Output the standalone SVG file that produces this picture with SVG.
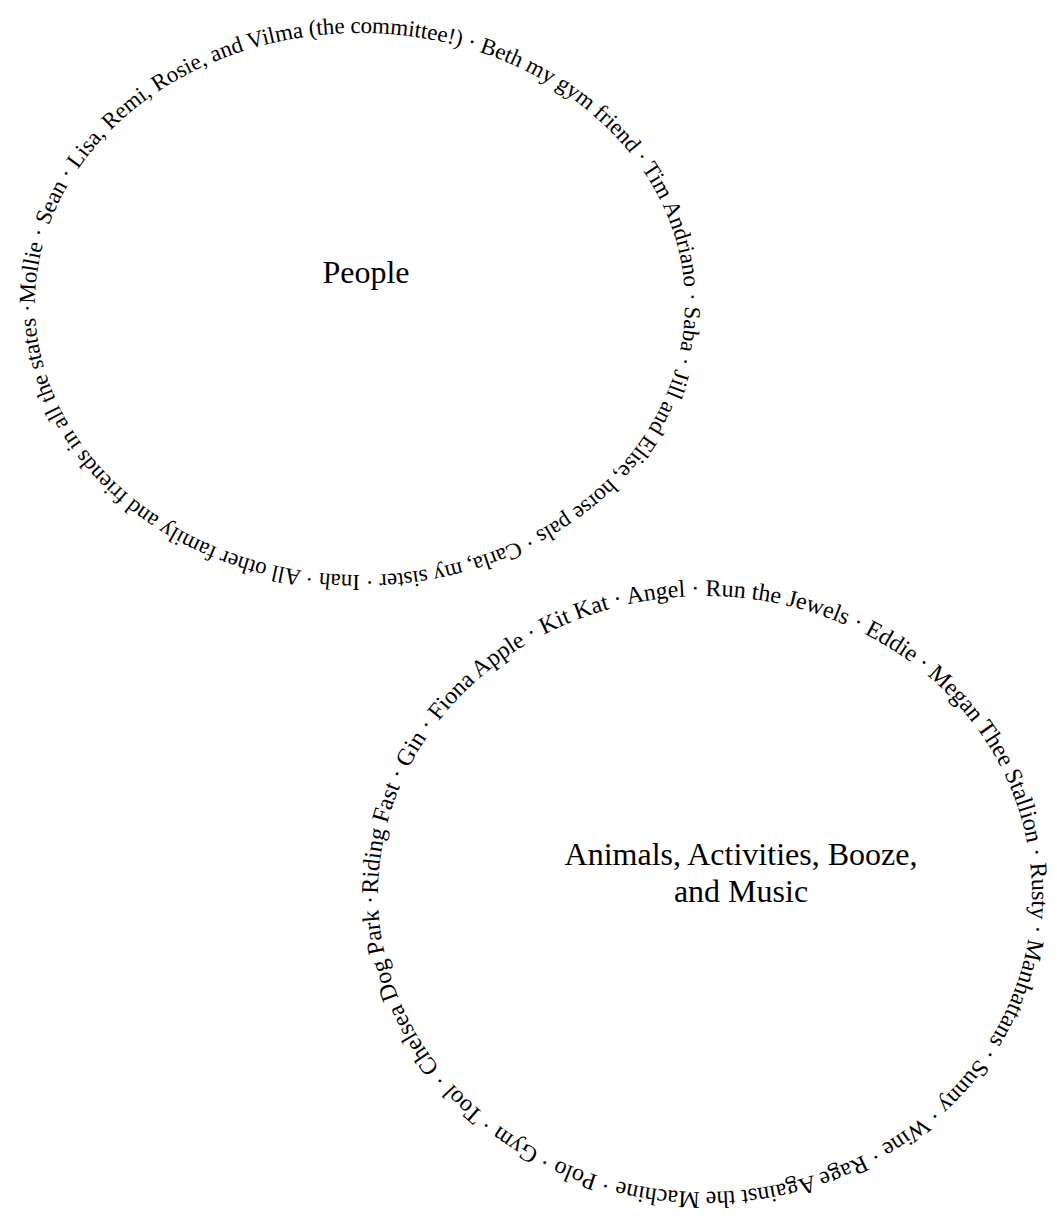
<svg xmlns="http://www.w3.org/2000/svg" width="1057" height="1218" viewBox="0 0 1057 1218">
<style>
.ring{font-family:"Liberation Serif","Times New Roman",serif;fill:#000}
.label{font-family:"Liberation Serif","Times New Roman",serif;font-size:32px;fill:#000;text-anchor:middle}
</style>
<defs>
<path id="p1" d="M35,304 A325,271 0 0,1 360,33 A325,271 0 0,1 685,304 A325,271 0 0,1 360,575 A325,271 0 0,1 35,304"/>
<path id="p2" d="M378,894 A327,298 0 0,1 705,596 A327,298 0 0,1 1032,894 A327,298 0 0,1 705,1192 A327,298 0 0,1 378,894"/>
</defs>
<rect width="1057" height="1218" fill="#fff"/>
<g id="people">
<text class="ring" font-family="Liberation Serif, Times New Roman, serif" font-size="23"><textPath href="#p1" textLength="1875" lengthAdjust="spacing">Mollie · Sean · Lisa, Remi, Rosie, and Vilma (the committee!) · Beth my gym friend · Tim Andriano · Saba · Jill and Elise, horse pals · Carla, my sister · Inah · All other family and friends in all the states ·</textPath></text>
<text class="label" font-family="Liberation Serif, Times New Roman, serif" x="366" y="283">People</text>
</g>
<g id="animals">
<text class="ring" font-family="Liberation Serif, Times New Roman, serif" font-size="24"><textPath href="#p2" textLength="1962" lengthAdjust="spacing">Riding Fast · Gin · Fiona Apple · Kit Kat · Angel · Run the Jewels · Eddie · Megan Thee Stallion · Rusty · Manhattans · Sunny · Wine · Rage Against the Machine · Polo · Gym · Tool · Chelsea Dog Park ·</textPath></text>
<text class="label" font-family="Liberation Serif, Times New Roman, serif" x="741" y="865">Animals, Activities, Booze,</text>
<text class="label" font-family="Liberation Serif, Times New Roman, serif" x="741" y="902">and Music</text>
</g>
</svg>
